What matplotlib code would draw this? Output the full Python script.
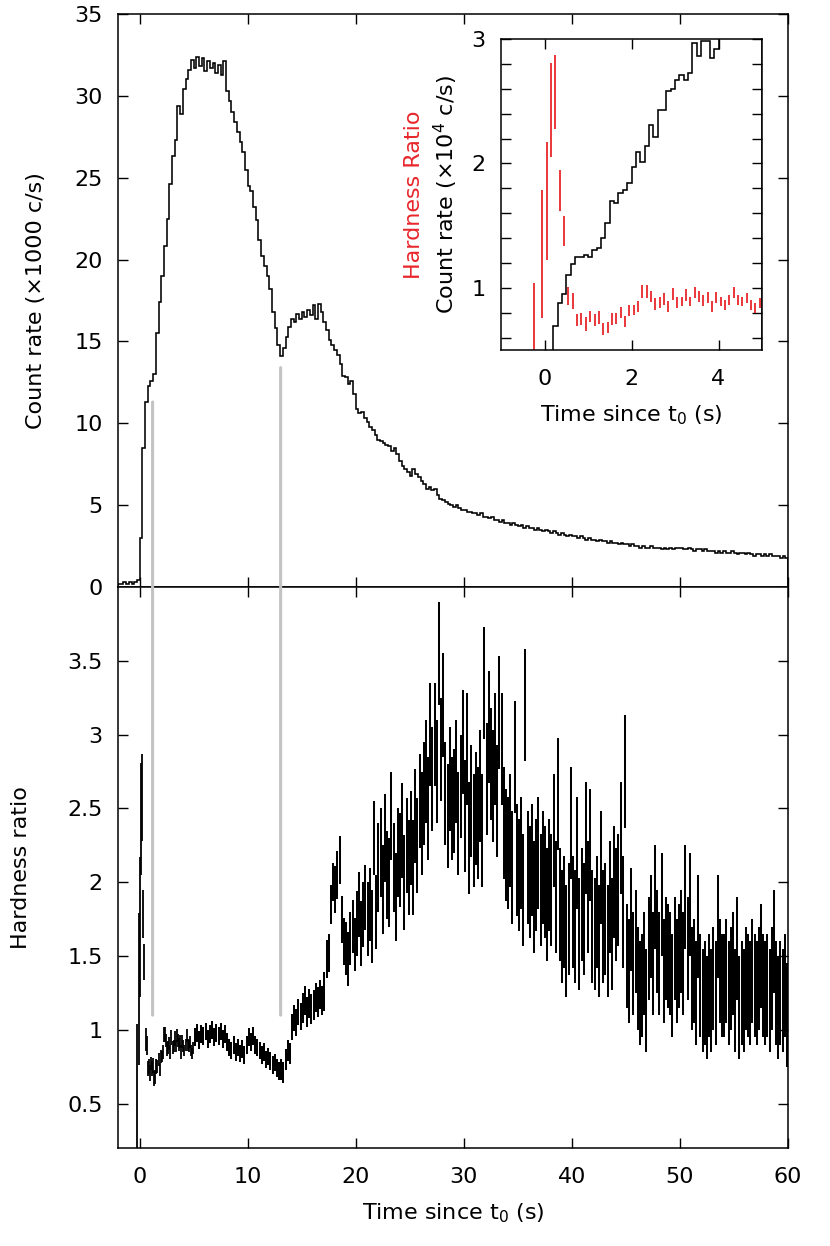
import numpy as np
import matplotlib
matplotlib.use("Agg")
import matplotlib.pyplot as plt
from matplotlib.patches import ConnectionPatch
from matplotlib.ticker import MultipleLocator, FixedLocator, FuncFormatter

# ---------------- data ----------------
# Count-rate light curve (x1000 c/s), 0.25 s bins starting at t = -2 s
rate_start = -2.0
rate_bin = 0.25
rate_k = [
    0.2, 0.2, 0.3, 0.2, 0.3, 0.2, 0.3, 0.4,
    3.0, 8.5, 11.3, 12.3,
    12.6, 13.0, 15.5, 17.4,
    19.0, 20.8, 22.5, 24.6,
    26.3, 27.3, 29.4, 28.9,
    30.4, 31.0, 31.6, 32.2,
    31.7, 32.4, 31.8, 32.3,
    31.5, 32.1, 31.7, 32.0,
    31.4, 31.9, 31.3, 32.1,
    30.3, 29.7, 29.0, 28.4,
    27.8, 27.2, 26.6, 25.5,
    24.5, 24.2, 23.2, 22.4,
    21.2, 20.2, 19.6, 19.0,
    18.2, 16.8, 15.8, 14.8,
    14.1, 14.6, 15.3, 15.9,
    16.4, 16.2, 16.7, 16.4,
    16.8, 16.5, 16.9, 16.6,
    17.2, 16.4, 17.3, 16.8,
    16.2, 15.7, 15.1, 14.8,
    14.5, 14.2, 13.6, 12.9,
    12.8, 12.4, 12.6, 11.8,
    10.9, 10.6, 10.7, 10.3,
    10.1, 9.8, 9.6, 9.3,
    9.0, 8.9, 8.8, 8.7,
    8.6, 8.3, 8.5, 8.1,
    7.7, 7.4, 7.2, 7.0,
    6.8, 7.2, 6.9, 6.7,
    6.5, 6.3, 6.0, 6.1,
    5.9, 6.0, 5.6, 5.4,
    5.3, 5.2, 5.1, 5.0,
    4.9, 5.0, 4.8, 4.7,
    4.7, 4.6, 4.6, 4.5,
    4.5, 4.4, 4.5, 4.3,
    4.3, 4.2, 4.3, 4.1,
    4.1, 4.0, 4.1, 3.9,
    3.9, 3.8, 3.9, 3.8,
    3.7, 3.8, 3.6, 3.7,
    3.6, 3.6, 3.5, 3.6,
    3.5, 3.4, 3.5, 3.4,
    3.3, 3.4, 3.3, 3.2,
    3.3, 3.2, 3.1, 3.2,
    3.1, 3.1, 3.0, 3.1,
    3.0, 2.9, 3.0, 2.9,
    2.9, 2.8, 2.9, 2.8,
    2.8, 2.7, 2.8, 2.7,
    2.7, 2.6, 2.7, 2.6,
    2.6, 2.5, 2.6, 2.5,
    2.5, 2.4, 2.5, 2.4,
    2.4, 2.5, 2.4, 2.4,
    2.4, 2.3, 2.4, 2.3,
    2.4, 2.3, 2.4, 2.4,
    2.4, 2.3, 2.3, 2.4,
    2.3, 2.2, 2.3, 2.3,
    2.2, 2.3, 2.2, 2.2,
    2.2, 2.1, 2.2, 2.1,
    2.2, 2.1, 2.1, 2.2,
    2.1, 2.0, 2.1, 2.1,
    2.0, 2.1, 2.0, 1.9,
    2.0, 2.0, 1.9, 2.0,
    1.9, 2.0, 1.9, 1.9,
    1.9, 1.8, 1.9, 1.8,
]

# Inset count rate (x10^4 c/s), 0.1 s bins starting at t = 0
inset_start = 0.0
inset_bin = 0.1
inset_rate = [
    0.30, 0.45, 0.69, 0.88, 0.95, 1.10, 1.19, 1.25, 1.25, 1.26,
    1.25, 1.30, 1.32, 1.40, 1.52, 1.70, 1.68, 1.76, 1.79, 1.84,
    1.97, 2.09, 2.01, 2.14, 2.31, 2.21, 2.43, 2.43, 2.58, 2.60,
    2.67, 2.71, 2.67, 2.73, 2.97, 2.86, 2.98, 2.98, 2.85, 2.92,
    3.05, 3.10, 3.08, 3.15, 3.12, 3.18, 3.16, 3.20, 3.22, 3.19,
]

# Hardness ratio, fine 0.1 s bins (t < 5 s): bin centres, values, 1-sigma errors
hr_fine_t = [-0.25, -0.05, 0.05, 0.15, 0.25, 0.35, 0.45, 0.55, 0.65,
             0.75, 0.85, 0.95, 1.05, 1.15, 1.25, 1.35, 1.45, 1.55, 1.65,
             1.75, 1.85, 1.95, 2.05, 2.15, 2.25, 2.35, 2.45, 2.55, 2.65,
             2.75, 2.85, 2.95, 3.05, 3.15, 3.25, 3.35, 3.45, 3.55, 3.65,
             3.75, 3.85, 3.95, 4.05, 4.15, 4.25, 4.35, 4.45, 4.55, 4.65,
             4.75, 4.85, 4.95]
hr_fine_val = [0.30, 1.275, 1.695, 2.43, 2.575, 1.785, 1.46, 0.935, 0.895,
               0.74, 0.75, 0.71, 0.77, 0.74, 0.76, 0.67, 0.68, 0.75, 0.75,
               0.80, 0.73, 0.82, 0.82, 0.85, 0.97, 0.97, 0.93, 0.87, 0.88,
               0.91, 0.85, 0.95, 0.88, 0.89, 0.94, 0.89, 0.96, 0.93, 0.90,
               0.92, 0.85, 0.92, 0.89, 0.86, 0.90, 0.96, 0.90, 0.89, 0.92,
               0.86, 0.84, 0.88]
hr_fine_err = [0.74, 0.515, 0.475, 0.38, 0.295, 0.165, 0.12, 0.075, 0.065,
               0.05, 0.05, 0.055, 0.045, 0.05, 0.05, 0.05, 0.045, 0.05, 0.045,
               0.045, 0.045, 0.045, 0.04, 0.045, 0.05, 0.05, 0.045, 0.045, 0.045,
               0.045, 0.045, 0.05, 0.045, 0.04, 0.05, 0.04, 0.045, 0.045, 0.045,
               0.045, 0.045, 0.045, 0.04, 0.04, 0.04, 0.045, 0.04, 0.04, 0.04,
               0.04, 0.04, 0.04]

# Hardness ratio, 0.2 s bins from t = 5 s to 60 s (5 values per second)
hr_start = 5.0
hr_bin = 0.2
hr_val = [
    0.95, 0.98, 0.93, 0.97, 0.96,   # 5
    0.99, 0.94, 0.97, 1.00, 0.95,   # 6
    0.98, 0.96, 0.99, 0.94, 0.97,   # 7
    0.92, 0.88, 0.86, 0.90, 0.85,   # 8
    0.88, 0.84, 0.87, 0.83, 0.90,   # 9
    0.95, 0.92, 0.96, 0.90, 0.88,   # 10
    0.86, 0.83, 0.85, 0.80, 0.82,   # 11
    0.79, 0.76, 0.78, 0.74, 0.72,   # 12
    0.73, 0.71, 0.80, 0.86, 0.84,   # 13
    1.02, 1.08, 1.05, 1.12, 1.09,   # 14
    1.15, 1.20, 1.12, 1.18, 1.14,   # 15
    1.17, 1.22, 1.19, 1.24, 1.20,   # 16
    1.26, 1.48, 1.52, 1.85, 2.00,   # 17
    1.95, 2.05, 2.15, 1.75, 1.60,   # 18
    1.55, 1.48, 1.62, 1.70, 1.58,   # 19
    1.72, 1.85, 1.65, 1.78, 1.90,   # 20
    1.75, 1.85, 1.70, 2.30, 1.80,   # 21
    2.10, 2.20, 1.95, 2.30, 2.05,   # 22
    2.00, 2.45, 2.10, 1.90, 2.20,   # 23
    2.15, 2.35, 2.00, 2.25, 2.10,   # 24
    2.30, 2.10, 2.45, 2.25, 2.55,   # 25
    2.40, 2.60, 2.75, 2.50, 3.00,   # 26
    2.70, 3.00, 2.75, 3.55, 2.90,   # 27
    3.20, 2.60, 2.45, 2.70, 2.50,   # 28
    2.55, 2.75, 2.40, 2.65, 2.95,   # 29
    2.45, 2.90, 2.30, 2.55, 2.35,   # 30
    2.50, 2.40, 2.65, 2.35, 3.35,   # 31
    2.70, 3.05, 2.80, 2.65, 2.90,   # 32
    2.55, 3.15, 2.90, 2.40, 2.25,   # 33
    2.20, 2.35, 2.10, 2.85, 2.15,   # 34
    2.05, 2.20, 1.95, 3.20, 2.10,   # 35
    2.00, 2.15, 1.90, 2.05, 2.20,   # 36
    1.95, 2.10, 2.00, 1.85, 2.05,   # 37
    1.95, 2.35, 1.90, 2.60, 1.85,   # 38
    1.70, 1.80, 1.60, 1.75, 2.40,   # 39
    1.80, 1.70, 2.20, 1.65, 1.85,   # 40
    1.75, 2.30, 1.90, 2.25, 1.70,   # 41
    1.65, 1.80, 1.60, 2.10, 1.70,   # 42
    1.75, 1.60, 1.90, 1.65, 2.00,   # 43
    1.85, 1.95, 2.30, 1.80, 2.75,   # 44
    1.50, 1.40, 1.75, 1.45, 1.60,   # 45
    1.35, 1.25, 1.30, 1.45, 1.20,   # 46
    1.55, 1.70, 1.45, 1.90, 1.60,   # 47
    1.45, 1.85, 1.40, 1.55, 1.50,   # 48
    1.45, 1.30, 1.55, 1.40, 1.50,   # 49
    1.60, 1.45, 1.90, 1.55, 1.85,   # 50
    1.35, 1.40, 1.25, 1.70, 1.30,   # 51
    1.20, 1.25, 1.15, 1.30, 1.20,   # 52
    1.35, 1.25, 1.70, 1.40, 1.30,   # 53
    1.30, 1.40, 1.25, 1.35, 1.45,   # 54
    1.20, 1.55, 1.15, 1.25, 1.20,   # 55
    1.35, 1.30, 1.25, 1.40, 1.30,   # 56
    1.25, 1.35, 1.50, 1.30, 1.25,   # 57
    1.30, 1.20, 1.35, 1.60, 1.25,   # 58
    1.15, 1.25, 1.20, 1.30, 1.10,   # 59
]
# 1-sigma error on the hardness ratio, one value per second (t = 5 ... 59 s)
hr_err_per_s = [0.06, 0.06, 0.06, 0.06, 0.06, 0.06, 0.06, 0.06,
                0.07, 0.09, 0.10, 0.10, 0.13, 0.16, 0.18, 0.22, 0.25,
                0.30, 0.30, 0.32, 0.32, 0.35, 0.35, 0.35, 0.35,
                0.38, 0.38, 0.38, 0.38, 0.38, 0.38, 0.38, 0.38,
                0.38, 0.38, 0.38, 0.38, 0.38, 0.38, 0.38,
                0.35, 0.35, 0.35, 0.35, 0.35, 0.35, 0.35, 0.35,
                0.35, 0.35, 0.35, 0.35, 0.35, 0.35, 0.35]

# Marked epochs (grey guide lines)
mark_t = [1.2, 13.05]
mark_top = [11.3, 13.4]
mark_bottom = [1.1, 1.1]

# ---------------- style ----------------
RED = '#e8262b'
GREY = '#c3c3c3'
FS = 16
plt.rcParams['font.family'] = ['DejaVu Sans']
plt.rcParams['mathtext.fontset'] = 'dejavusans'

W, H = 830, 1246
fig = plt.figure(figsize=(W / 100, H / 100), dpi=100)


def frac(l, t, r, b):
    return [l / W, 1 - b / H, (r - l) / W, (b - t) / H]


ax1 = fig.add_axes(frac(118, 14, 788, 587))
ax2 = fig.add_axes(frac(118, 587, 788, 1148))

gfmt = FuncFormatter(lambda v, p: ('%g' % v))

# top panel: light curve
edges = rate_start + rate_bin * np.arange(len(rate_k) + 1)
ax1.stairs(rate_k, edges, color='black', lw=1.15)
ax1.set_xlim(-2, 60)
ax1.set_ylim(0, 35)
ax1.yaxis.set_major_locator(MultipleLocator(5))
ax1.xaxis.set_major_locator(MultipleLocator(10))
ax1.tick_params(direction='in', top=True, right=True, length=7, width=1,
                labelsize=FS, labelbottom=False)
ax1.tick_params(axis='y', pad=11)
ax1.set_ylabel('Count rate (×1000 c/s)', fontsize=FS)
ax1.yaxis.set_label_coords(-0.108, 0.5)

# bottom panel: hardness ratio
hr_t = hr_start + hr_bin * (np.arange(len(hr_val)) + 0.5)
hr_err = np.repeat(hr_err_per_s, int(round(1 / hr_bin)))
hv = np.array(hr_val)
ax2.vlines(hr_t, hv - hr_err, hv + hr_err, color='black', lw=1.45)
fv = np.array(hr_fine_val)
fe = np.array(hr_fine_err)
ax2.vlines(hr_fine_t, fv - fe, fv + fe, color='black', lw=1.3)
ax2.set_xlim(-2, 60)
ax2.set_ylim(0.2, 4.0)
ax2.yaxis.set_major_locator(FixedLocator([0.5, 1, 1.5, 2, 2.5, 3, 3.5]))
ax2.yaxis.set_major_formatter(gfmt)
ax2.xaxis.set_major_locator(MultipleLocator(10))
ax2.tick_params(direction='in', top=True, right=True, length=7, width=1,
                labelsize=FS)
ax2.tick_params(axis='x', pad=14)
ax2.tick_params(axis='y', pad=11)
ax2.set_xlabel('Time since t$_0$ (s)', fontsize=FS, labelpad=10)
ax2.set_ylabel('Hardness ratio', fontsize=FS)
ax2.yaxis.set_label_coords(-0.130, 0.5)

for a in (ax1, ax2):
    for s in a.spines.values():
        s.set_linewidth(1.1)

# grey guide lines spanning both panels
for t, yt, yb in zip(mark_t, mark_top, mark_bottom):
    con = ConnectionPatch(xyA=(t, yt), coordsA=ax1.transData,
                          xyB=(t, yb), coordsB=ax2.transData,
                          color=GREY, lw=2.2, zorder=0.5)
    fig.add_artist(con)

# inset
axin = fig.add_axes(frac(501, 39, 762, 350))
axin.set_facecolor('white')
iedges = inset_start + inset_bin * np.arange(len(inset_rate) + 1)
axin.stairs(inset_rate, iedges, color='black', lw=1.15)
axin.vlines(hr_fine_t, fv - fe, fv + fe, color=RED, lw=1.3)
axin.set_xlim(-1, 5)
axin.set_ylim(0.5, 3)
axin.xaxis.set_major_locator(FixedLocator([0, 2, 4]))
axin.yaxis.set_major_locator(FixedLocator([1, 2, 3]))
axin.yaxis.set_minor_locator(MultipleLocator(0.2))
axin.tick_params(which='both', direction='in', top=True, right=True,
                 length=7, width=1, labelsize=FS)
axin.tick_params(axis='x', pad=14)
axin.tick_params(axis='y', pad=11)
axin.set_xlabel('Time since t$_0$ (s)', fontsize=FS, labelpad=10)
for s in axin.spines.values():
    s.set_linewidth(1.1)

fig.text(414 / W, 1 - 195 / H, 'Hardness Ratio', rotation=90, color=RED,
         ha='center', va='center', fontsize=FS)
fig.text(446 / W, 1 - 195 / H, 'Count rate (×10$^4$ c/s)', rotation=90,
         color='black', ha='center', va='center', fontsize=FS)

fig.savefig('out.png', dpi=100)
